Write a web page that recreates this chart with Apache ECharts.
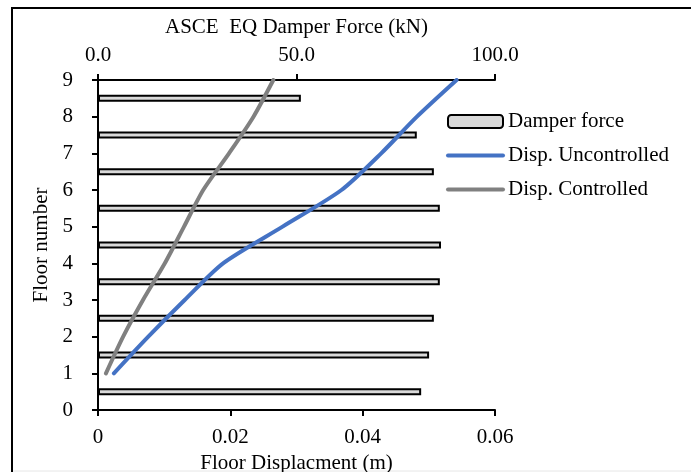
<!DOCTYPE html>
<html>
<head>
<meta charset="utf-8">
<script src="https://cdn.jsdelivr.net/npm/echarts@6/dist/echarts.min.js"></script>
<style>
  html, body { margin: 0; padding: 0; background: #fff; }
  #chart { width: 691px; height: 472px; }
</style>
</head>
<body>
<div id="chart"></div>
<script>
// Floor levels (left axis) and the storey bands the dampers sit in
const floors = [1, 2, 3, 4, 5, 6, 7, 8, 9];
const storeys = ['0-1', '1-2', '2-3', '3-4', '4-5', '5-6', '6-7', '7-8', '8-9'];

// Damper force per storey (kN), bottom to top
const damperForce = [81.4, 83.4, 84.6, 86.1, 86.4, 86.1, 84.6, 80.3, 51.1];

// Floor displacement (m) at floors 1..9
const dispUncontrolled = [0.0024, 0.0076, 0.0131, 0.0189, 0.0279, 0.0368, 0.0428, 0.0482, 0.0542];
const dispControlled = [0.0012, 0.0038, 0.0068, 0.0101, 0.0130, 0.0159, 0.0198, 0.0235, 0.0265];

const FONT = '"Liberation Serif", "Times New Roman", serif';
const FS = 21;
const BLUE = '#4472c4';
const GREY = '#808080';

const chart = echarts.init(document.getElementById('chart'), null, { renderer: 'canvas' });

const axisLine = { show: true, lineStyle: { color: '#000', width: 2 } };
const axisTick = { show: true, inside: false, length: 6, lineStyle: { color: '#000', width: 2 } };

chart.setOption({
  animation: false,
  backgroundColor: '#fff',
  textStyle: { fontFamily: FONT, color: '#000' },
  grid: {
    left: 98, right: 196, top: 80, bottom: 62,
    containLabel: false,
    outerBoundsMode: 'none'
  },
  legend: {
    orient: 'vertical',
    left: 446,
    top: 111,
    padding: 0,
    itemWidth: 55,
    itemHeight: 13,
    itemGap: 13,
    textStyle: { fontFamily: FONT, fontSize: FS, color: '#000' },
    data: [
      { name: 'Damper force' },
      {
        name: 'Disp. Uncontrolled',
        itemStyle: { opacity: 0 },
        lineStyle: { color: BLUE, width: 4, cap: 'round' }
      },
      {
        name: 'Disp. Controlled',
        itemStyle: { opacity: 0 },
        lineStyle: { color: GREY, width: 4, cap: 'round' }
      }
    ]
  },
  xAxis: [
    {
      // bottom: floor displacement
      type: 'value',
      position: 'bottom',
      min: 0, max: 0.06, interval: 0.02,
      name: 'Floor Displacment (m)',
      nameLocation: 'middle',
      nameGap: 38,
      nameTextStyle: { fontFamily: FONT, fontSize: FS, color: '#000' },
      axisLine: axisLine,
      axisTick: axisTick,
      splitLine: { show: false },
      axisLabel: {
        margin: 17,
        fontFamily: FONT, fontSize: FS, color: '#000',
        formatter: v => (v === 0 ? '0' : v.toFixed(2))
      }
    },
    {
      // top: damper force
      type: 'value',
      position: 'top',
      min: 0, max: 100, interval: 50,
      name: 'ASCE  EQ Damper Force (kN)',
      nameLocation: 'middle',
      nameGap: 42,
      nameTextStyle: { fontFamily: FONT, fontSize: FS, color: '#000' },
      axisLine: axisLine,
      axisTick: axisTick,
      splitLine: { show: false },
      axisLabel: {
        margin: 14,
        fontFamily: FONT, fontSize: FS, color: '#000',
        formatter: v => v.toFixed(1)
      }
    }
  ],
  yAxis: [
    {
      type: 'value',
      min: 0, max: 9, interval: 1,
      name: 'Floor number',
      nameLocation: 'middle',
      nameGap: 39,
      nameRotate: 90,
      nameTextStyle: { fontFamily: FONT, fontSize: FS, color: '#000' },
      axisLine: axisLine,
      axisTick: axisTick,
      splitLine: { show: false },
      axisLabel: { margin: 25, fontFamily: FONT, fontSize: FS, color: '#000' }
    },
    {
      // storey bands for the damper bars
      type: 'category',
      data: storeys,
      boundaryGap: true,
      show: false
    }
  ],
  series: [
    {
      name: 'Damper force',
      type: 'bar',
      xAxisIndex: 1,
      yAxisIndex: 1,
      barWidth: 7,
      data: damperForce,
      itemStyle: { color: '#d9d9d9', borderColor: '#000', borderWidth: 2 },
      z: 2
    },
    {
      name: 'Disp. Uncontrolled',
      type: 'line',
      xAxisIndex: 0,
      yAxisIndex: 0,
      data: dispUncontrolled.map((d, i) => [d, floors[i]]),
      showSymbol: false,
      symbol: 'none',
      smooth: 0.25,
      lineStyle: { color: BLUE, width: 4, cap: 'round', join: 'round' },
      itemStyle: { color: BLUE },
      z: 3
    },
    {
      name: 'Disp. Controlled',
      type: 'line',
      xAxisIndex: 0,
      yAxisIndex: 0,
      data: dispControlled.map((d, i) => [d, floors[i]]),
      showSymbol: false,
      symbol: 'none',
      smooth: 0.25,
      lineStyle: { color: GREY, width: 4, cap: 'round', join: 'round' },
      itemStyle: { color: GREY },
      z: 3
    }
  ],
  graphic: [
    {
      type: 'polyline',
      shape: { points: [[12, 472], [12, 8], [691, 8]] },
      style: { stroke: '#000', lineWidth: 2, fill: null },
      silent: true
    },
    {
      type: 'line',
      shape: { x1: 13, y1: 471, x2: 691, y2: 471 },
      style: { stroke: '#e6e6e6', lineWidth: 1 },
      silent: true
    }
  ]
});
</script>
</body>
</html>
